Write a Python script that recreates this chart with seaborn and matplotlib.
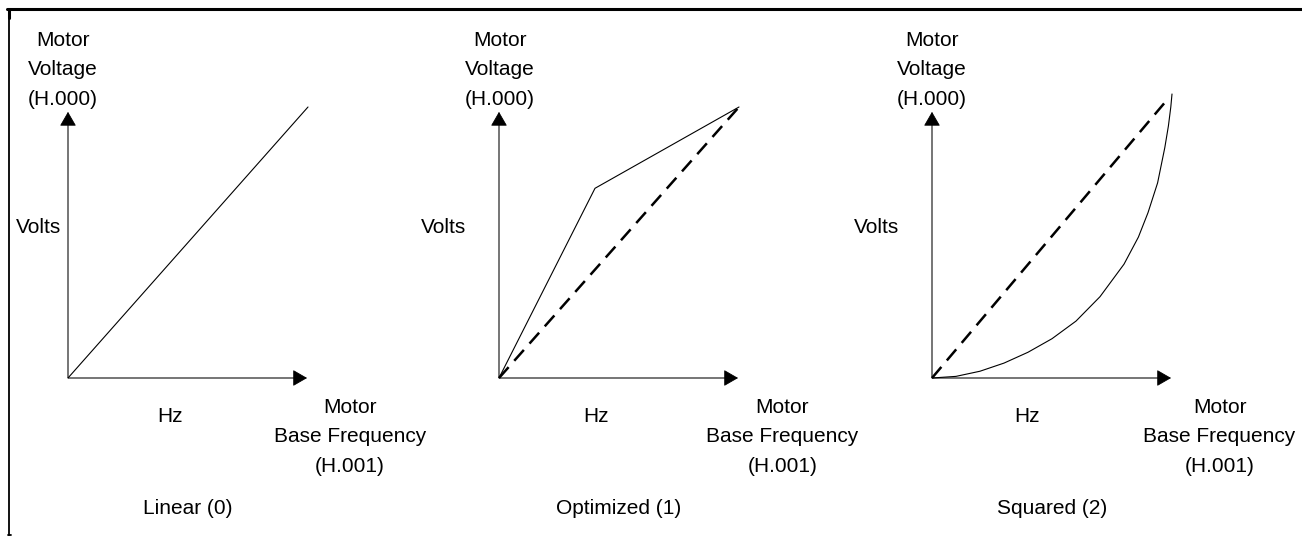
import matplotlib
matplotlib.use("Agg")
import matplotlib.pyplot as plt
from matplotlib.lines import Line2D
import seaborn as sns

# V/Hz patterns: frequency and voltage as fractions of base frequency / motor voltage
titles = ["Linear (0)", "Optimized (1)", "Squared (2)"]

linear_freq = [0.0, 1.0]
linear_volt = [0.0, 1.0]

optimized_freq = [0.0, 0.40, 1.0]
optimized_volt = [0.0, 0.70, 1.0]

squared_freq = [0.0, 0.10, 0.20, 0.30, 0.40, 0.50, 0.60, 0.70, 0.80, 0.86,
                0.90, 0.94, 0.97, 0.985, 0.995, 1.0]
squared_volt = [0.0, 0.006, 0.025, 0.055, 0.095, 0.145, 0.21, 0.30, 0.42, 0.52,
                0.61, 0.72, 0.85, 0.93, 1.0, 1.048]

# straight V/Hz reference drawn dashed in the last two panels
ref_freq = [[0.0, 1.0], [0.0, 0.983]]
ref_volt = [[0.0, 1.0], [0.0, 1.03]]

y_axis_label = "Motor\nVoltage\n(H.000)"
x_axis_label = "Motor\nBase Frequency\n(H.001)"
volts_label = "Volts"
hz_label = "Hz"

curves = [
    (linear_freq, linear_volt),
    (optimized_freq, optimized_volt),
    (squared_freq, squared_volt),
]
refs = [None, (ref_freq[0], ref_volt[0]), (ref_freq[1], ref_volt[1])]

# layout (pixels of the 1302x536 canvas)
FIG_W, FIG_H = 1302, 536
origin_x = [68, 499, 932]
origin_y = 378
unit_x, unit_y = 240, 271

ylab_x = [-0.02, 0.004, 0.0]
volts_x = [-0.123, -0.233, -0.233]
hz_x = [0.425, 0.404, 0.396]
xlab_x = [1.175, 1.18, 1.198]

sns.set_theme(style="white")
plt.rcParams["font.family"] = ["Liberation Sans", "DejaVu Sans"]
plt.rcParams["text.color"] = "black"

FS = 15
AXIS_GRAY = "#505050"
HEAD = "-|>,head_length=9.0,head_width=5.2"

fig = plt.figure(figsize=(FIG_W / 100, FIG_H / 100), dpi=100)
fig.patch.set_facecolor("white")

for i in range(3):
    ax = fig.add_axes([origin_x[i] / FIG_W, (FIG_H - origin_y) / FIG_H,
                       unit_x / FIG_W, unit_y / FIG_H])
    ax.set_xlim(0, 1)
    ax.set_ylim(0, 1)
    ax.set_axis_off()

    # axes with arrowheads
    ax.plot([0, 0.97], [0, 0], color=AXIS_GRAY, lw=1.1, clip_on=False,
            solid_capstyle="butt")
    ax.plot([0, 0], [0, 0.96], color=AXIS_GRAY, lw=1.1, clip_on=False,
            solid_capstyle="butt")
    ax.annotate("", xy=(0.996, 0), xytext=(0.95, 0), annotation_clip=False,
                arrowprops=dict(arrowstyle=HEAD, mutation_scale=1, color="black",
                                lw=0.6, shrinkA=0, shrinkB=0))
    ax.annotate("", xy=(0, 0.982), xytext=(0, 0.94), annotation_clip=False,
                arrowprops=dict(arrowstyle=HEAD, mutation_scale=1, color="black",
                                lw=0.6, shrinkA=0, shrinkB=0))

    if refs[i] is not None:
        sns.lineplot(x=refs[i][0], y=refs[i][1], ax=ax, color="black", lw=1.8,
                     linestyle=(0, (5.8, 3.4)), estimator=None, clip_on=False)
    fx, vy = curves[i]
    sns.lineplot(x=fx, y=vy, ax=ax, color="black", lw=0.8, estimator=None,
                 sort=False, clip_on=False)

    ax.text(ylab_x[i], 1.138, y_axis_label, ha="center", va="center",
            fontsize=FS, linespacing=1.7)
    ax.text(volts_x[i], 0.554, volts_label, ha="center", va="center", fontsize=FS)
    ax.text(hz_x[i], -0.142, hz_label, ha="center", va="center", fontsize=FS)
    ax.text(xlab_x[i], -0.216, x_axis_label, ha="center", va="center",
            fontsize=FS, linespacing=1.7)
    ax.text(0.5, -0.483, titles[i], ha="center", va="center", fontsize=FS)

# frame around the figure: heavy top rule and thin left rule
px = lambda x: x / FIG_W
py = lambda y: 1 - y / FIG_H
fig.add_artist(Line2D([px(7), 1], [py(8.5), py(8.5)], color="black", lw=2.2,
                      transform=fig.transFigure))
fig.add_artist(Line2D([px(8.5), px(8.5)], [py(8.5), py(535)], color="black", lw=1.3,
                      transform=fig.transFigure))
fig.add_artist(Line2D([px(8.5), px(8.5)], [py(8.5), py(18)], color="black", lw=2.2,
                      transform=fig.transFigure))
fig.add_artist(Line2D([px(8), px(11)], [py(535), py(535)], color="black", lw=1.3,
                      transform=fig.transFigure))

fig.savefig("out.png", dpi=100, facecolor="white")
